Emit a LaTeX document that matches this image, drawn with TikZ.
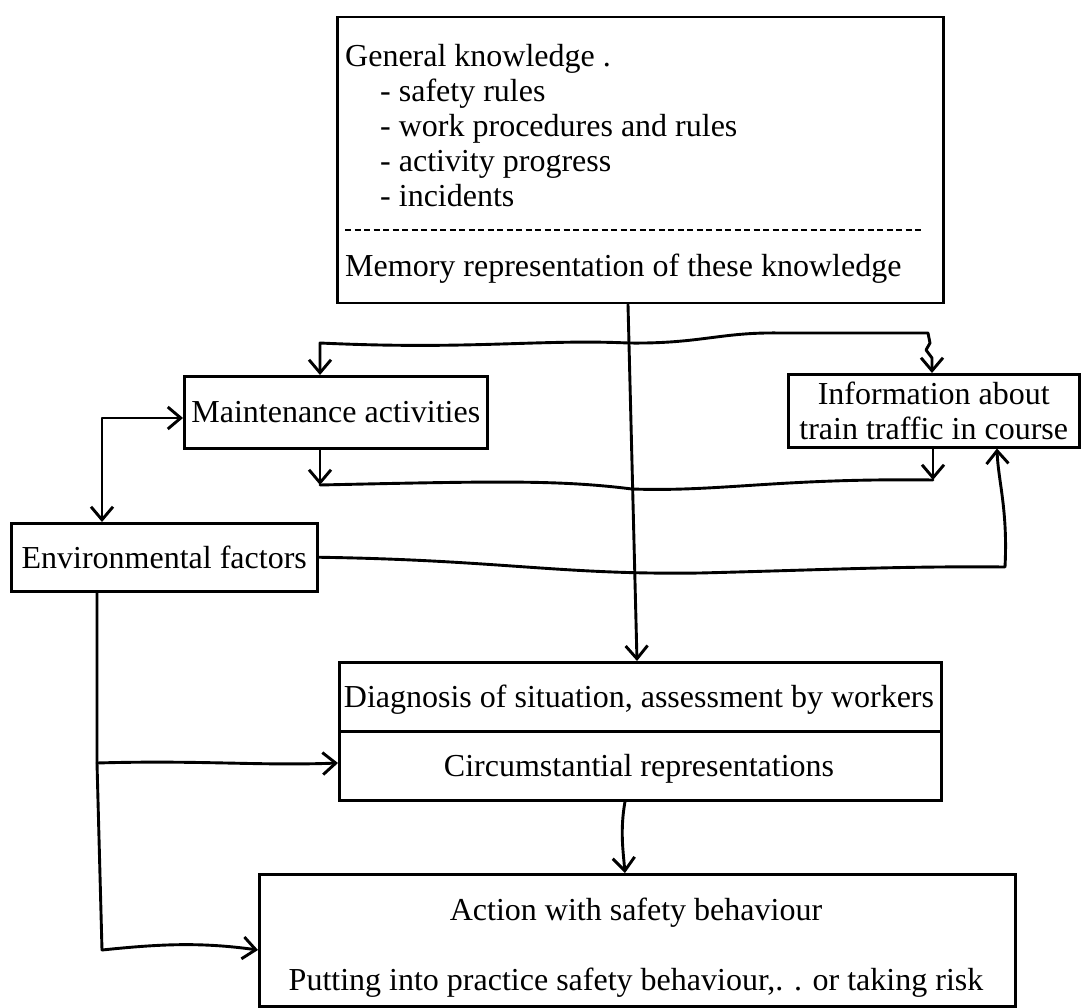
\documentclass[tikz,border=0pt]{standalone}
\usepackage{fontspec}
\setmainfont{Liberation Serif}
\usetikzlibrary{arrows.meta,calc}
\begin{document}
\begin{tikzpicture}[x=1pt,y=-1pt,
  font=\fontsize{32}{35}\selectfont,
  box/.style={draw,line width=2.5pt,inner sep=0pt,anchor=north west,align=center},
  txt/.style={inner sep=0pt,anchor=base},
  ltxt/.style={inner sep=0pt,anchor=base west},
  conn/.style={line width=2.9pt,line cap=round,line join=round},
  >={Straight Barb[length=13pt,width=22pt]}]
\useasboundingbox (0,0) rectangle (1082,1008);

% ---- boxes ----
\node[box,minimum width=606pt,minimum height=286pt] (gk) at (336,16) {};
\node[ltxt] (gk1) at (345,67)  {General knowledge .};
\node[ltxt] (gk2) at (380,102) {- safety rules};
\node[ltxt] (gk3) at (380,137) {- work procedures and rules};
\node[ltxt] (gk4) at (380,172) {- activity progress};
\node[ltxt] (gk5) at (380,207) {- incidents};
\draw[line width=2.2pt,dash pattern=on 6pt off 3.5pt] (345,230) -- (921,230);
\node[ltxt] (gk6) at (345,277) {Memory representation of these knowledge};

\node[box,minimum width=303pt,minimum height=72pt] (maint) at (183,375) {Maintenance activities};
\node[box,minimum width=291pt,minimum height=73pt] (info) at (787,373) {Information about\\train traffic in course};
\node[box,minimum width=306pt,minimum height=68pt] (env) at (10,522) {Environmental factors};

\node[box,minimum width=602pt,minimum height=138pt] (diag) at (338,661) {};
\draw[line width=2.5pt] (diag.west) -- (diag.east);
\node[txt] (diag1) at (639,707) {Diagnosis of situation, assessment by workers};
\node[txt] (diag2) at (639,776) {Circumstantial representations};

\node[box,minimum width=756pt,minimum height=132pt] (act) at (258,873) {};
\node[txt] (act1) at (636,920) {Action with safety behaviour};
\node[txt] (act2) at (636,990) {Putting into practice safety behaviour,. . or taking risk};

% ---- bend points ----
\coordinate (tl) at (320,343);
\coordinate (tz) at (932,358);
\coordinate (bl) at (320,485);
\coordinate (br) at (933,480);
\coordinate (em) at (102,418);
\coordinate (ei) at (1005,567);
\coordinate (eu) at (997,0);
\coordinate (ed) at (97,763);
\coordinate (ea) at (102,950);
\coordinate (vm) at (628,0);
\coordinate (vd) at (637,0);
\coordinate (da) at (625,0);

% ---- connectors ----
% loop over maintenance activities and train traffic information
\draw[conn,<->] (maint.north -| tl) -- (tl)
  .. controls (470,350) and (540,339) .. (628,343)
  .. controls (700,344) and (720,332) .. (780,333)
  -- (928,333) -- (930,343) -- (926,350) -- (tz) -- (tz |- info.north);
\draw[conn,->] (maint.south -| bl) -- (bl);
\draw[conn,->] (info.south -| br) -- (br);
\draw[conn] (bl) .. controls (500,481) and (560,480) .. (632,489)
  .. controls (720,492) and (780,478) .. (br);

% environmental factors to maintenance activities
\draw[conn,<->] (env.north -| em) -- (em) -- (em -| maint.west);

% environmental factors to train traffic information
\draw[conn,->] (env.east) .. controls (500,560) and (560,575) .. (700,573)
  .. controls (820,570) and (900,566) .. (ei)
  .. controls (1008,510) and (998,480) .. (eu |- info.south);

% environmental factors down to diagnosis and action
\draw[conn] (env.south -| ed) -- (ed) -- (ea);
\draw[conn,->] (ed) .. controls (200,760) and (260,766) .. (ed -| diag.west);
\draw[conn,->] (ea) .. controls (160,944) and (200,942) .. (ea -| act.west);

% knowledge to diagnosis, diagnosis to action
\draw[conn,->] (gk.south -| vm) -- (vd |- diag.north);
\draw[conn,->] (da |- diag.south) .. controls (620,830) and (623,850) .. (da |- act.north);
\end{tikzpicture}
\end{document}
